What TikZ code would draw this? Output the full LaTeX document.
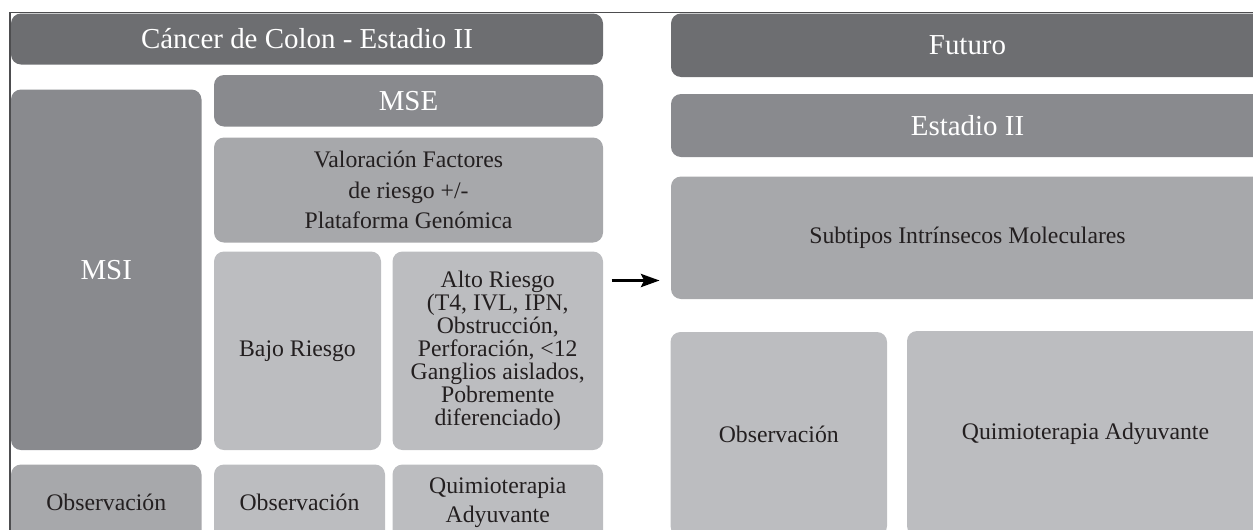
\documentclass[tikz,border=0pt]{standalone}
\usepackage{fontspec}
\setmainfont{Liberation Serif}
\usetikzlibrary{arrows.meta}
\definecolor{cdark}{HTML}{6D6E71}
\definecolor{cmid}{HTML}{898A8E}
\definecolor{clight}{HTML}{A7A8AB}
\definecolor{cpale}{HTML}{BCBDC0}
\definecolor{ctext}{HTML}{231F20}
\definecolor{cframe}{HTML}{4D4D4F}
\begin{document}
\begin{tikzpicture}[x=0.75pt,y=-0.75pt,
  box/.style={rectangle, rounded corners=7.5pt, inner sep=0pt, align=center,
    font=\fontsize{17.8}{17.2}\selectfont, text=ctext},
  hbox/.style={box, text=white, font=\fontsize{21.7}{24}\selectfont},
  darkbox/.style={hbox, fill=cdark},
  midbox/.style={hbox, fill=cmid},
  lightbox/.style={box, fill=clight},
  palebox/.style={box, fill=cpale},
  arr/.style={line width=1.6pt, -{Stealth[length=14pt,width=10pt,inset=2.5pt]}}]
\useasboundingbox (0,0) rectangle (1253,529);
\clip (0,0) rectangle (1253,529);
\draw[cframe, line width=0.9pt] (10,12.3) rectangle (1400,700);
% left part
\node[darkbox, minimum width=444pt, minimum height=38.25pt] (hdrL) at (307,39) {Cáncer de Colon - Estadio II};
\node[midbox, minimum width=142.875pt, minimum height=270.375pt] (msi) at (106.25,269.75) {MSI};
\node[midbox, minimum width=291.75pt, minimum height=38.625pt] (mse) at (408.5,100.75) {MSE};
\node[lightbox, minimum width=291.75pt, minimum height=78.75pt, font=\fontsize{17.8}{23.1}\selectfont] (val) at (408.5,190)
  {Valoración Factores\\de riesgo +/-\\Plataforma Genómica};
\node[palebox, minimum width=125.25pt, minimum height=148.875pt] (bajo) at (297.5,350.75) {Bajo Riesgo};
\node[palebox, minimum width=157.875pt, minimum height=148.875pt] (alto) at (497.75,350.75)
  {Alto Riesgo\\(T4, IVL, IPN,\\Obstrucción,\\Perforación, {<}12\\Ganglios aislados,\\Pobremente\\diferenciado)};
\node[lightbox, minimum width=142.875pt, minimum height=57.375pt] (obs1) at (106.25,502.75) {Observación};
\node[palebox, minimum width=128.25pt, minimum height=57.375pt] (obs2) at (299.5,502.75) {Observación};
\node[palebox, minimum width=157.875pt, minimum height=57.375pt, font=\fontsize{17.8}{22}\selectfont] (quimL) at (497.75,502.75) {Quimioterapia\\Adyuvante};
% right part
\node[darkbox, minimum width=444.75pt, minimum height=47.625pt] (fut) at (967.5,45.25) {Futuro};
\node[midbox, minimum width=444.75pt, minimum height=47.25pt] (est) at (967.5,125.5) {Estadio II};
\node[lightbox, minimum width=444.75pt, minimum height=91.875pt] (sub) at (967.5,237.75) {Subtipos Intrínsecos Moleculares};
\node[palebox, minimum width=162.375pt, minimum height=153pt] (obsR) at (778.75,434) {Observación};
\node[palebox, minimum width=267.75pt, minimum height=153.75pt] (quimR) at (1085.5,433.5) {Quimioterapia Adyuvante};
% arrow
\coordinate (a1) at (611.7,280.5);
\coordinate (a2) at (659.5,280.5);
\draw[arr] (a1) -- (a2);
\end{tikzpicture}
\end{document}
